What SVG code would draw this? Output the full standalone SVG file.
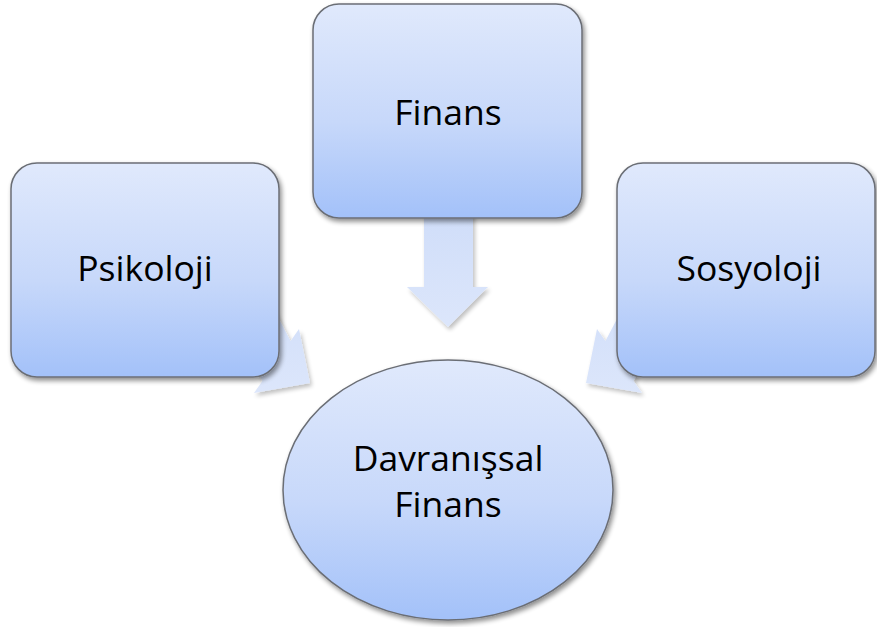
<svg xmlns="http://www.w3.org/2000/svg" width="877" height="627" viewBox="0 0 877 627">
<style>
.box{fill:url(#g);stroke:#6b6e75;stroke-width:1.5;filter:url(#sh)}
.arr{fill:url(#ga);filter:url(#sha)}
.t{font-family:"Open Sans","Liberation Sans",sans-serif;font-size:35.5px;fill:#000;text-anchor:middle}
</style>
<defs>
<linearGradient id="g" x1="0" y1="0" x2="0" y2="1">
<stop offset="0" stop-color="#e0e9fc"/>
<stop offset="0.55" stop-color="#c7d8fa"/>
<stop offset="1" stop-color="#a3c1f9"/>
</linearGradient>
<linearGradient id="ga" x1="0" y1="0" x2="0" y2="1">
<stop offset="0" stop-color="#cfddf9"/>
<stop offset="1" stop-color="#dce6fb"/>
</linearGradient>
<filter id="sh" x="-10%" y="-10%" width="125%" height="125%">
<feGaussianBlur in="SourceAlpha" stdDeviation="2.5"/>
<feOffset dx="2" dy="3" result="b"/>
<feComponentTransfer><feFuncA type="linear" slope="0.45"/></feComponentTransfer>
<feMerge><feMergeNode/><feMergeNode in="SourceGraphic"/></feMerge>
</filter>
<filter id="sha" x="-20%" y="-20%" width="140%" height="140%">
<feGaussianBlur in="SourceAlpha" stdDeviation="2"/>
<feOffset dx="1.5" dy="2.5" result="b"/>
<feComponentTransfer><feFuncA type="linear" slope="0.25"/></feComponentTransfer>
<feMerge><feMergeNode/><feMergeNode in="SourceGraphic"/></feMerge>
</filter>
</defs>
<rect width="877" height="627" fill="#fff"/>
<g id="connectors">
<polygon class="arr" points="424,205 473,205 473,287 488,287 448,327 407,287 424,287"/>
<polygon class="arr" points="232,323 260,283 290.6,340.9 299,329 310,383 254,393 262.4,381.1"/>
<polygon class="arr" points="664,323 636,283 605.4,340.9 597,329 586,383 642,393 633.6,381.1"/>
</g>
<g id="psikoloji">
<rect class="box" x="11" y="163" width="268" height="214" rx="26"/>
<text class="t" x="145" y="281">Psikoloji</text>
</g>
<g id="finans">
<rect class="box" x="313" y="4" width="269" height="214" rx="26"/>
<text class="t" x="448" y="125">Finans</text>
</g>
<g id="sosyoloji">
<rect class="box" x="617" y="163" width="258" height="214" rx="26"/>
<text class="t" x="749" y="281">Sosyoloji</text>
</g>
<g id="davranissal-finans">
<ellipse class="box" cx="448" cy="490" rx="165" ry="130"/>
<text class="t" x="448" y="471">Davranışsal</text>
<text class="t" x="448" y="517">Finans</text>
</g>
</svg>
